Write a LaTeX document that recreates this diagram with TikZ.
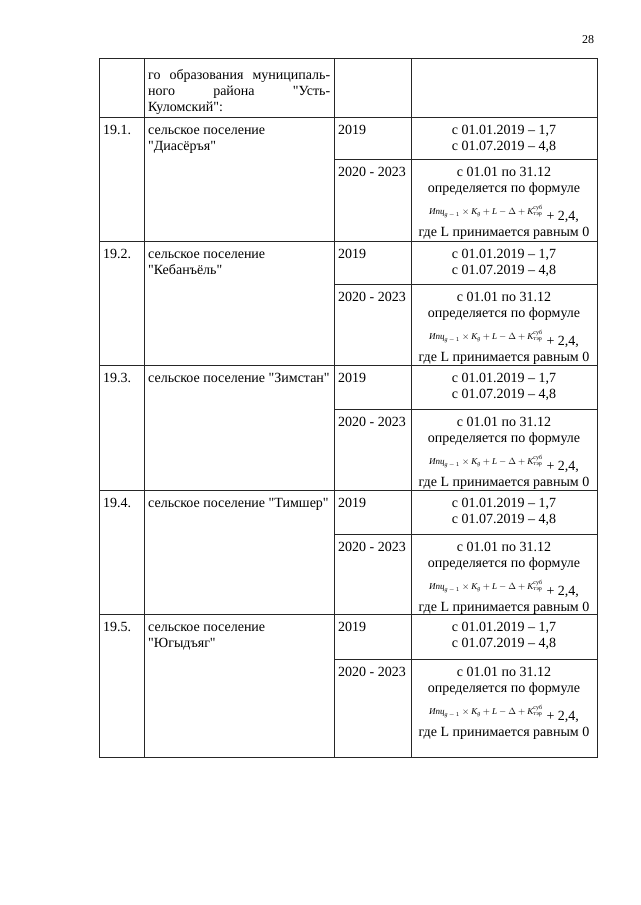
\documentclass[tikz,border=0pt]{standalone}
\usepackage{amsmath}
\usepackage{fontspec}
\setmainfont{Liberation Serif}[Ligatures=TeXOff]
\newcommand\ipcformula{{\fontsize{9}{11}\selectfont$\text{\itshape Ипц}_{\text{\itshape g}\,-\,1}\times\text{\itshape K}_{\text{\itshape g}}+\text{\itshape L}-\Delta+\text{\itshape K}^{\text{суб}}_{\text{тэр}}$}}
\begin{document}
\begin{tikzpicture}[x=1pt,y=-1pt,
  txt/.style={anchor=base west,inner sep=0pt,font=\fontsize{14}{16}\selectfont},
  ctr/.style={anchor=base,inner sep=0pt,font=\fontsize{14}{16}\selectfont},
  gridline/.style={line width=0.8pt,draw=black!85}]
\useasboundingbox[fill=white] (0,0) rectangle (640,905);
% page number
\node[anchor=center,inner sep=0pt,font=\fontsize{12}{14}\selectfont] (pg) at (588,40) {28};
% grid
\draw[gridline] (99,58) rectangle (597,757);
\foreach \x in {144,334,411} \draw[gridline] (\x,58) -- (\x,757);
\foreach \y in {117,241,365,490,614} \draw[gridline] (99,\y) -- (597,\y);
\foreach \y in {159,284,409,534,659} \draw[gridline] (334,\y) -- (597,\y);
% header
\node[txt] (h1) at (148,79) {\makebox[182pt][s]{го образования муниципаль-}};
\node[txt] (h2) at (148,95) {\makebox[182pt][s]{ного района "Усть-}};
\node[txt] (h3) at (148,111) {Куломский":};
% rows
\foreach \id/\y/\s/\num/\la/\lb in {
  a/117/159/19.1./{сельское поселение}/{"Диасёръя"},
  b/241/284/19.2./{сельское поселение}/{"Кебанъёль"},
  c/365/409/19.3./{сельское поселение "Зимстан"}/{},
  d/490/534/19.4./{сельское поселение "Тимшер"}/{},
  e/614/659/19.5./{сельское поселение}/{"Югыдъяг"}}{
  \node[txt] (num\id) at (103,\y+17) {\num};
  \node[txt] (na\id) at (148,\y+17) {\la};
  \node[txt] (nb\id) at (148,\y+33) {\lb};
  \node[txt] (ya\id) at (338,\y+17) {2019};
  \node[ctr] (va\id) at (504,\y+17) {с 01.01.2019 – 1,7};
  \node[ctr] (vb\id) at (504,\y+33) {с 01.07.2019 – 4,8};
  \node[txt] (yb\id) at (338,\s+17) {2020 - 2023};
  \node[ctr] (wa\id) at (504,\s+17) {с 01.01 по 31.12};
  \node[ctr] (wb\id) at (504,\s+33) {определяется по формуле};
  \node[ctr] (wc\id) at (504,\s+61) {\raisebox{6pt}{\ipcformula}\hspace{4pt}+ 2,4,};
  \node[ctr] (wd\id) at (504,\s+77) {где L принимается равным 0};
}
\end{tikzpicture}
\end{document}
